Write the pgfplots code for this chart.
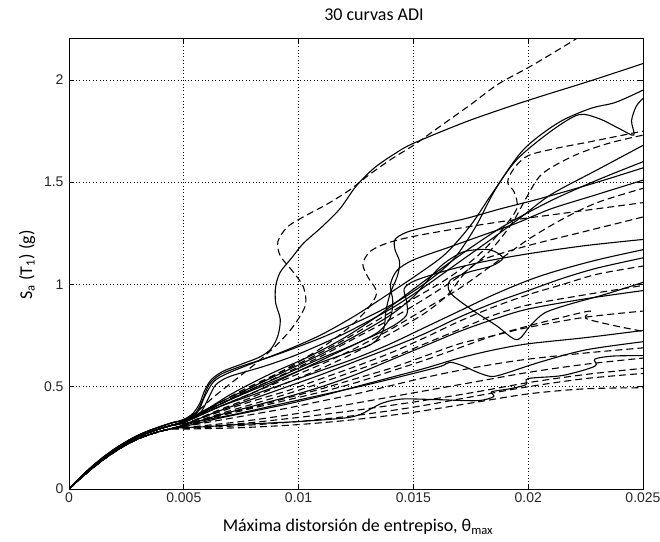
\documentclass[border=0pt]{standalone}
\usepackage{pgfplots}
\pgfplotsset{compat=1.18}
\usepackage{fontspec}
\setmainfont{Carlito}
\newfontfamily\arial{Liberation Sans}
\begin{document}
\begin{tikzpicture}[x=1pt,y=1pt]
\path[use as bounding box] (-69,-52) rectangle (591,489);
\begin{axis}[
 at={(0,0)}, anchor=south west, scale only axis, width=574pt, height=450pt,
 xmin=0, xmax=0.025, ymin=0, ymax=2.2,
 xtick={0,0.005,0.01,0.015,0.02,0.025}, xticklabels={0,0.005,0.01,0.015,0.02,0.025},
 ytick={0,0.5,1,1.5,2}, yticklabels={0,0.5,1,1.5,2},
 scaled x ticks=false,
 grid=major, major grid style={black, line width=0.7pt, dash pattern=on 0.8pt off 2.6pt},
 tick align=inside, major tick length=5pt, tick style={black, line width=0.8pt},
 axis line style={black, line width=1pt},
 ticklabel style={font=\arial\fontsize{14}{14}\selectfont, text=black!85},
 yticklabel style={xshift=-2pt},
 sol/.style={black, line width=1.1pt, smooth, tension=0.5},
 dsh/.style={black, line width=1.1pt, smooth, tension=0.5, dash pattern=on 7pt off 4pt},
]
% 1
\addplot[sol] coordinates {(0,0) (0.0005,0.058) (0.001,0.110) (0.0015,0.156) (0.002,0.197) (0.0025,0.232) (0.003,0.262) (0.0035,0.286) (0.004,0.306) (0.0045,0.324) (0.005,0.34) (0.0054,0.37) (0.0057,0.42) (0.0059,0.48) (0.0062,0.535) (0.0067,0.575) (0.0075,0.61) (0.0083,0.645) (0.0088,0.685) (0.0091,0.75) (0.0092,0.83) (0.0090,0.91) (0.0090,0.99) (0.0092,1.06) (0.0097,1.13) (0.0102,1.20) (0.0110,1.28) (0.0118,1.37) (0.0125,1.48) (0.0133,1.57) (0.0142,1.64) (0.0150,1.69) (0.0174,1.80) (0.0200,1.90) (0.0227,1.995) (0.0250,2.08)};
% 2
\addplot[dsh] coordinates {(0,0) (0.0005,0.058) (0.001,0.110) (0.0015,0.156) (0.002,0.197) (0.0025,0.232) (0.003,0.262) (0.0035,0.286) (0.004,0.306) (0.0045,0.324) (0.005,0.34) (0.0056,0.38) (0.0063,0.45) (0.0072,0.53) (0.0082,0.62) (0.0091,0.71) (0.0098,0.80) (0.0103,0.90) (0.0102,0.99) (0.0097,1.07) (0.0092,1.14) (0.0091,1.21) (0.0095,1.28) (0.0102,1.33) (0.0112,1.39) (0.0122,1.46) (0.0130,1.53) (0.0140,1.61) (0.0150,1.68) (0.0160,1.76) (0.0175,1.88) (0.0187,1.98) (0.0200,2.06) (0.0215,2.16) (0.0225,2.23)};
% 3
\addplot[sol] coordinates {(0,0) (0.0005,0.058) (0.001,0.110) (0.0015,0.156) (0.002,0.197) (0.0025,0.232) (0.003,0.262) (0.0035,0.286) (0.004,0.306) (0.0045,0.324) (0.005,0.338) (0.0055,0.37) (0.0058,0.43) (0.0061,0.51) (0.0066,0.56) (0.0075,0.60) (0.0090,0.655) (0.0110,0.74) (0.0130,0.84) (0.0145,0.93) (0.0158,1.03) (0.0168,1.13) (0.0177,1.28) (0.0186,1.47) (0.0198,1.66) (0.0213,1.79) (0.0227,1.86) (0.0238,1.89) (0.0250,1.95)};
% 4
\addplot[sol] coordinates {(0,0) (0.0005,0.058) (0.001,0.110) (0.0015,0.156) (0.002,0.197) (0.0025,0.232) (0.003,0.262) (0.0035,0.286) (0.004,0.306) (0.0045,0.324) (0.005,0.335) (0.0056,0.375) (0.0059,0.45) (0.0063,0.525) (0.0069,0.565) (0.0080,0.615) (0.0095,0.68) (0.0110,0.755) (0.0125,0.85) (0.0140,0.96) (0.0152,1.05) (0.0164,1.15) (0.0175,1.29) (0.0184,1.44) (0.0195,1.61) (0.0210,1.75) (0.0222,1.83) (0.0231,1.81) (0.0240,1.76) (0.0246,1.73) (0.0245,1.80) (0.0247,1.87) (0.0250,1.91)};
% 5
\addplot[sol] coordinates {(0,0) (0.0005,0.055) (0.001,0.105) (0.0015,0.150) (0.002,0.190) (0.0025,0.225) (0.003,0.254) (0.0035,0.277) (0.004,0.296) (0.0045,0.312) (0.005,0.33) (0.0057,0.37) (0.0061,0.45) (0.0064,0.51) (0.0070,0.55) (0.0085,0.60) (0.0100,0.66) (0.0120,0.76) (0.0140,0.88) (0.0155,0.99) (0.0170,1.11) (0.0185,1.23) (0.0197,1.33) (0.0210,1.44) (0.0230,1.56) (0.0250,1.68)};
% 6
\addplot[sol] coordinates {(0,0) (0.0005,0.055) (0.001,0.105) (0.0015,0.150) (0.002,0.190) (0.0025,0.225) (0.003,0.254) (0.0035,0.277) (0.004,0.296) (0.0045,0.312) (0.005,0.33) (0.0060,0.39) (0.0070,0.46) (0.0080,0.52) (0.0090,0.575) (0.0105,0.65) (0.0120,0.74) (0.0135,0.85) (0.0148,0.96) (0.0160,1.06) (0.0175,1.18) (0.0190,1.29) (0.0210,1.41) (0.0230,1.51) (0.0250,1.60)};
% 7
\addplot[sol] coordinates {(0,0) (0.0005,0.055) (0.001,0.105) (0.0015,0.150) (0.002,0.190) (0.0025,0.225) (0.003,0.254) (0.0035,0.277) (0.004,0.296) (0.0045,0.312) (0.005,0.33) (0.0060,0.385) (0.0075,0.46) (0.0090,0.53) (0.0105,0.60) (0.0120,0.66) (0.0132,0.71) (0.0137,0.78) (0.0138,0.87) (0.0140,0.96) (0.0143,1.04) (0.0144,1.11) (0.0142,1.17) (0.0142,1.22) (0.0147,1.255) (0.0157,1.285) (0.0172,1.32) (0.0188,1.37) (0.0202,1.41) (0.0218,1.46) (0.0233,1.51) (0.0250,1.57)};
% 8
\addplot[sol] coordinates {(0,0) (0.0005,0.055) (0.001,0.105) (0.0015,0.150) (0.002,0.190) (0.0025,0.225) (0.003,0.254) (0.0035,0.277) (0.004,0.296) (0.0045,0.312) (0.005,0.33) (0.0065,0.42) (0.0080,0.50) (0.0095,0.58) (0.0110,0.66) (0.0125,0.75) (0.0140,0.85) (0.0150,0.94) (0.0157,1.03) (0.0163,1.10) (0.0172,1.16) (0.0183,1.17) (0.0189,1.13) (0.0184,1.09) (0.0174,1.06) (0.0166,1.02) (0.0166,0.96) (0.0175,0.88) (0.0186,0.80) (0.0195,0.73) (0.0201,0.80) (0.0207,0.86) (0.0217,0.90) (0.0233,0.95) (0.0250,1.01)};
% 9
\addplot[dsh] coordinates {(0,0) (0.0005,0.055) (0.001,0.105) (0.0015,0.150) (0.002,0.190) (0.0025,0.225) (0.003,0.254) (0.0035,0.277) (0.004,0.296) (0.0045,0.312) (0.005,0.33) (0.0062,0.40) (0.0075,0.48) (0.0090,0.56) (0.0105,0.64) (0.0120,0.73) (0.0135,0.83) (0.0150,0.93) (0.0165,1.03) (0.0178,1.14) (0.0188,1.26) (0.0195,1.37) (0.0194,1.45) (0.0191,1.50) (0.0194,1.57) (0.0200,1.63) (0.0212,1.665) (0.0228,1.70) (0.0250,1.75)};
% 10
\addplot[dsh] coordinates {(0,0) (0.0005,0.055) (0.001,0.105) (0.0015,0.150) (0.002,0.190) (0.0025,0.225) (0.003,0.254) (0.0035,0.277) (0.004,0.296) (0.0045,0.312) (0.005,0.325) (0.0065,0.41) (0.0080,0.49) (0.0095,0.57) (0.0110,0.65) (0.0125,0.74) (0.0140,0.83) (0.0155,0.93) (0.0170,1.04) (0.0183,1.16) (0.0193,1.30) (0.0199,1.42) (0.0206,1.54) (0.0220,1.63) (0.0235,1.69) (0.0250,1.73)};
% 11
\addplot[dsh] coordinates {(0,0) (0.0005,0.055) (0.001,0.105) (0.0015,0.150) (0.002,0.190) (0.0025,0.225) (0.003,0.254) (0.0035,0.277) (0.004,0.296) (0.0045,0.312) (0.005,0.325) (0.0065,0.40) (0.0080,0.47) (0.0095,0.54) (0.0110,0.61) (0.0125,0.69) (0.0140,0.78) (0.0155,0.88) (0.0170,0.98) (0.0185,1.10) (0.0200,1.22) (0.0215,1.32) (0.0230,1.40) (0.0250,1.47)};
% 12
\addplot[dsh] coordinates {(0,0) (0.0005,0.052) (0.001,0.100) (0.0015,0.144) (0.002,0.183) (0.0025,0.217) (0.003,0.245) (0.0035,0.266) (0.004,0.283) (0.0045,0.296) (0.005,0.315) (0.0065,0.385) (0.0080,0.45) (0.0095,0.52) (0.0110,0.59) (0.0125,0.67) (0.0140,0.76) (0.0155,0.86) (0.0165,0.95) (0.0172,1.05) (0.0180,1.12) (0.0200,1.19) (0.0225,1.26) (0.0250,1.33)};
% 13
\addplot[sol] coordinates {(0,0) (0.0005,0.055) (0.001,0.105) (0.0015,0.150) (0.002,0.190) (0.0025,0.225) (0.003,0.254) (0.0035,0.277) (0.004,0.296) (0.0045,0.312) (0.005,0.33) (0.0065,0.41) (0.0080,0.49) (0.0095,0.565) (0.0110,0.64) (0.0125,0.71) (0.0135,0.77) (0.0140,0.84) (0.0141,0.92) (0.0140,1.00) (0.0143,1.07) (0.0150,1.12) (0.0165,1.18) (0.0180,1.24) (0.0195,1.30) (0.0210,1.37) (0.0230,1.44) (0.0250,1.51)};
% 14
\addplot[sol] coordinates {(0,0) (0.0005,0.055) (0.001,0.105) (0.0015,0.150) (0.002,0.190) (0.0025,0.225) (0.003,0.254) (0.0035,0.277) (0.004,0.296) (0.0045,0.312) (0.005,0.325) (0.0065,0.40) (0.0080,0.46) (0.0095,0.52) (0.0110,0.58) (0.0125,0.64) (0.0140,0.71) (0.0155,0.79) (0.0170,0.87) (0.0185,0.95) (0.0200,1.02) (0.0212,1.065) (0.0230,1.12) (0.0250,1.17)};
% 15
\addplot[sol] coordinates {(0,0) (0.0005,0.052) (0.001,0.100) (0.0015,0.144) (0.002,0.183) (0.0025,0.217) (0.003,0.245) (0.0035,0.266) (0.004,0.283) (0.0045,0.296) (0.005,0.315) (0.0065,0.38) (0.0080,0.44) (0.0095,0.50) (0.0110,0.56) (0.0125,0.625) (0.0140,0.69) (0.0155,0.76) (0.0170,0.84) (0.0185,0.91) (0.0200,0.97) (0.0215,1.03) (0.0230,1.08) (0.0250,1.13)};
% 16
\addplot[dsh] coordinates {(0,0) (0.0005,0.052) (0.001,0.100) (0.0015,0.144) (0.002,0.183) (0.0025,0.217) (0.003,0.245) (0.0035,0.266) (0.004,0.283) (0.0045,0.296) (0.005,0.315) (0.0065,0.375) (0.0080,0.43) (0.0095,0.48) (0.0110,0.54) (0.0125,0.60) (0.0140,0.665) (0.0155,0.74) (0.0170,0.82) (0.0185,0.89) (0.0200,0.95) (0.0215,1.00) (0.0230,1.05) (0.0250,1.09)};
% 17
\addplot[dsh] coordinates {(0,0) (0.0005,0.052) (0.001,0.100) (0.0015,0.144) (0.002,0.183) (0.0025,0.217) (0.003,0.245) (0.0035,0.266) (0.004,0.283) (0.0045,0.296) (0.005,0.31) (0.0065,0.365) (0.0080,0.415) (0.0095,0.465) (0.0110,0.52) (0.0125,0.58) (0.0140,0.64) (0.0155,0.71) (0.0170,0.78) (0.0185,0.85) (0.0200,0.90) (0.0225,0.95) (0.0250,0.995)};
% 18
\addplot[sol] coordinates {(0,0) (0.0005,0.052) (0.001,0.100) (0.0015,0.144) (0.002,0.183) (0.0025,0.217) (0.003,0.245) (0.0035,0.266) (0.004,0.283) (0.0045,0.296) (0.005,0.31) (0.0065,0.36) (0.0080,0.405) (0.0095,0.45) (0.0110,0.50) (0.0125,0.56) (0.0140,0.63) (0.0155,0.70) (0.0170,0.77) (0.0185,0.83) (0.0200,0.88) (0.0225,0.93) (0.0250,0.97)};
% 19
\addplot[dsh] coordinates {(0,0) (0.0005,0.052) (0.001,0.100) (0.0015,0.144) (0.002,0.183) (0.0025,0.217) (0.003,0.245) (0.0035,0.266) (0.004,0.283) (0.0045,0.296) (0.005,0.305) (0.0065,0.355) (0.0080,0.395) (0.0095,0.435) (0.0110,0.475) (0.0125,0.52) (0.0140,0.575) (0.0155,0.63) (0.0170,0.69) (0.0185,0.75) (0.0201,0.80) (0.0215,0.84) (0.0227,0.87) (0.0225,0.835) (0.0237,0.80) (0.0248,0.775) (0.0250,0.77)};
% 20
\addplot[sol] coordinates {(0,0) (0.0005,0.052) (0.001,0.100) (0.0015,0.144) (0.002,0.183) (0.0025,0.217) (0.003,0.245) (0.0035,0.266) (0.004,0.283) (0.0045,0.296) (0.005,0.305) (0.0065,0.345) (0.0080,0.38) (0.0095,0.415) (0.0110,0.455) (0.0125,0.50) (0.0140,0.545) (0.0155,0.59) (0.0170,0.64) (0.0185,0.68) (0.0200,0.71) (0.0225,0.74) (0.0250,0.775)};
% 21
\addplot[dsh] coordinates {(0,0) (0.0005,0.052) (0.001,0.100) (0.0015,0.144) (0.002,0.183) (0.0025,0.217) (0.003,0.245) (0.0035,0.266) (0.004,0.283) (0.0045,0.296) (0.005,0.305) (0.0065,0.335) (0.0080,0.365) (0.0095,0.395) (0.0110,0.43) (0.0125,0.465) (0.0140,0.505) (0.0155,0.545) (0.0170,0.58) (0.0185,0.61) (0.0200,0.635) (0.0225,0.665) (0.0250,0.69)};
% 22
\addplot[sol] coordinates {(0,0) (0.0005,0.052) (0.001,0.100) (0.0015,0.144) (0.002,0.183) (0.0025,0.217) (0.003,0.245) (0.0035,0.266) (0.004,0.283) (0.0045,0.296) (0.005,0.300) (0.0060,0.305) (0.0075,0.316) (0.0100,0.33) (0.0120,0.347) (0.0127,0.365) (0.0132,0.395) (0.0137,0.422) (0.0145,0.44) (0.0160,0.437) (0.0178,0.432) (0.0185,0.452) (0.0184,0.475) (0.0192,0.49) (0.0199,0.51) (0.0200,0.54) (0.0215,0.555) (0.0229,0.60) (0.0229,0.635) (0.0237,0.65) (0.0250,0.652)};
% 23
\addplot[dsh] coordinates {(0,0) (0.0005,0.052) (0.001,0.100) (0.0015,0.144) (0.002,0.183) (0.0025,0.217) (0.003,0.245) (0.0035,0.266) (0.004,0.283) (0.0045,0.296) (0.005,0.30) (0.0075,0.33) (0.0100,0.37) (0.0125,0.42) (0.0150,0.47) (0.0175,0.52) (0.0200,0.57) (0.0225,0.61) (0.0250,0.64)};
% 24
\addplot[dsh] coordinates {(0,0) (0.0005,0.052) (0.001,0.100) (0.0015,0.144) (0.002,0.183) (0.0025,0.217) (0.003,0.245) (0.0035,0.266) (0.004,0.283) (0.0045,0.296) (0.005,0.298) (0.0075,0.32) (0.0100,0.35) (0.0125,0.385) (0.0150,0.425) (0.0175,0.47) (0.0200,0.52) (0.0225,0.56) (0.0250,0.59)};
% 25
\addplot[dsh] coordinates {(0,0) (0.0005,0.052) (0.001,0.100) (0.0015,0.144) (0.002,0.183) (0.0025,0.217) (0.003,0.245) (0.0035,0.266) (0.004,0.283) (0.0045,0.296) (0.005,0.296) (0.0075,0.31) (0.0100,0.33) (0.0125,0.36) (0.0150,0.40) (0.0175,0.45) (0.0200,0.50) (0.0225,0.54) (0.0250,0.565)};
% 26
\addplot[dsh] coordinates {(0,0) (0.0005,0.052) (0.001,0.100) (0.0015,0.144) (0.002,0.183) (0.0025,0.217) (0.003,0.245) (0.0035,0.266) (0.004,0.283) (0.0045,0.293) (0.005,0.293) (0.0075,0.30) (0.0100,0.315) (0.0125,0.34) (0.0150,0.375) (0.0175,0.42) (0.0200,0.465) (0.0225,0.49) (0.0250,0.495)};
% 27
\addplot[sol] coordinates {(0,0) (0.0005,0.055) (0.001,0.105) (0.0015,0.150) (0.002,0.190) (0.0025,0.225) (0.003,0.254) (0.0035,0.277) (0.004,0.296) (0.0045,0.312) (0.005,0.32) (0.0070,0.36) (0.0090,0.41) (0.0110,0.46) (0.0130,0.51) (0.0150,0.565) (0.0162,0.60) (0.0166,0.62) (0.0172,0.60) (0.0178,0.57) (0.0184,0.55) (0.0190,0.565) (0.0205,0.62) (0.0225,0.68) (0.0250,0.72)};
% 28
\addplot[dsh] coordinates {(0,0) (0.0005,0.055) (0.001,0.105) (0.0015,0.150) (0.002,0.190) (0.0025,0.225) (0.003,0.254) (0.0035,0.277) (0.004,0.296) (0.0045,0.312) (0.005,0.33) (0.0065,0.41) (0.0080,0.50) (0.0095,0.59) (0.0110,0.69) (0.0122,0.79) (0.0130,0.88) (0.0134,0.96) (0.0130,1.04) (0.0128,1.10) (0.0131,1.16) (0.0138,1.20) (0.0150,1.235) (0.0170,1.275) (0.0190,1.31) (0.0210,1.34) (0.0230,1.37) (0.0250,1.40)};
% 29
\addplot[sol] coordinates {(0,0) (0.0005,0.055) (0.001,0.105) (0.0015,0.150) (0.002,0.190) (0.0025,0.225) (0.003,0.254) (0.0035,0.277) (0.004,0.296) (0.0045,0.312) (0.005,0.325) (0.0065,0.40) (0.0080,0.47) (0.0095,0.55) (0.0110,0.63) (0.0125,0.71) (0.0140,0.79) (0.0147,0.85) (0.0147,0.92) (0.0146,0.98) (0.0151,1.02) (0.0165,1.07) (0.0180,1.11) (0.0200,1.15) (0.0225,1.19) (0.0250,1.22)};
% 30
\addplot[dsh] coordinates {(0,0) (0.0005,0.052) (0.001,0.100) (0.0015,0.144) (0.002,0.183) (0.0025,0.217) (0.003,0.245) (0.0035,0.266) (0.004,0.283) (0.0045,0.296) (0.005,0.31) (0.0065,0.36) (0.0080,0.40) (0.0095,0.445) (0.0110,0.49) (0.0125,0.54) (0.0140,0.59) (0.0155,0.65) (0.0170,0.71) (0.0185,0.75) (0.0200,0.79) (0.0225,0.84) (0.0250,0.87)};
\end{axis}
\node[font=\fontsize{18}{18}\selectfont] at (305,474) {30 curvas ADI};
\node[font=\fontsize{18}{18}\selectfont] at (289,-38) {Máxima distorsión de entrepiso, θ\textsubscript{max}};
\node[font=\fontsize{18}{18}\selectfont, rotate=90] at (-42,224) {S\textsubscript{a} (T\textsubscript{1}) (g)};
\end{tikzpicture}
\end{document}
